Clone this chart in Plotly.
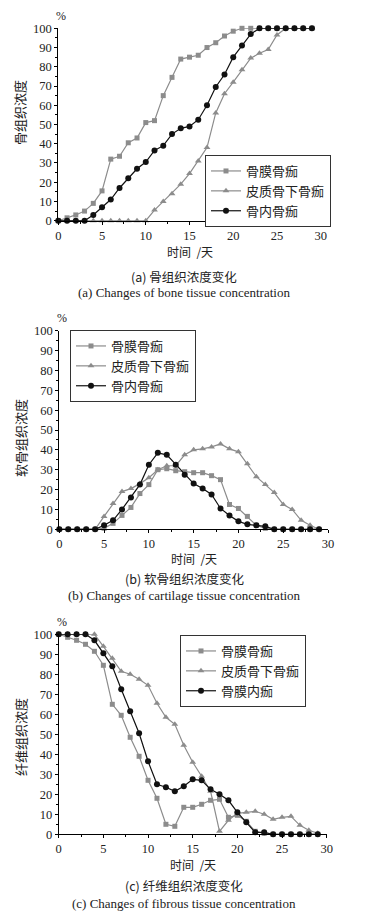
import plotly.graph_objects as go

W, H = 368, 917

days = list(range(30))
series_names_ab = ["骨膜骨痂", "皮质骨下骨痂", "骨内骨痂"]
series_names_c = ["骨膜骨痂", "皮质骨下骨痂", "骨膜内痂"]

# (a) bone tissue concentration
bone_periosteal = [0, 1.5, 3, 5, 9, 15.5, 32, 33.5, 40.5, 43, 51, 52, 65, 74.5, 84, 85, 86, 90, 92.5, 96,
                   98.5, 100, 100, 100, 100, 100, 100, 100, 100, 100]
bone_subcortical = [0, 0, 0, 0, 0, 0, 0, 0, 0, 0, 0, 5.5, 10, 14, 19, 24.5, 31, 38, 56, 66,
                    72, 78.5, 84.5, 87, 89, 96.5, 100, 100, 100, 100]
bone_endosteal = [0, 0, 0, 0, 3, 7, 11, 17, 22, 27, 30.5, 36.5, 39, 45, 48, 49, 52.5, 60, 69.5, 76,
                  85, 91, 97, 100, 100, 100, 100, 100, 100, 100]

# (b) cartilage tissue concentration
cart_periosteal = [0, 0, 0, 0, 0, 0.5, 3, 7, 11, 18, 22.5, 30, 30.5, 29.5, 29, 28.5, 28.5, 27, 25, 12.5,
                   10.5, 6.5, 2, 0.5, 0, 0, 0, 0, 0, 0]
cart_subcortical = [0, 0, 0, 0, 0, 6.5, 13, 19, 20.5, 23, 26, 30, 32, 32, 37.5, 40, 40.5, 41.5, 43, 40.5,
                    39, 33, 26.5, 22.5, 18.5, 12.5, 10, 4.5, 2, 0]
cart_endosteal = [0, 0, 0, 0, 0, 2, 4.5, 10, 16, 22.5, 32.5, 38.5, 37.5, 32.5, 27.5, 23, 20.5, 17.5, 10.5, 7,
                  4, 2.5, 2, 1.5, 0, 0, 0, 0, 0, 0]

# (c) fibrous tissue concentration
fib_periosteal = [100, 98.5, 97, 95, 91.5, 84.5, 65, 59.5, 48.5, 39, 27, 18, 5, 4, 13.5, 13.5, 15, 17, 17.5, 8.5,
                  9.5, 6.5, 1.5, 0.5, 0, 0, 0, 0, 0, 0]
fib_subcortical = [100, 100, 100, 100, 100, 94, 88, 81.5, 80, 77.5, 74.5, 65.5, 58.5, 55, 44.5, 36, 29, 21.5, 1.5, 7,
                   10.5, 11, 11.5, 10, 7.5, 8.5, 9, 4.5, 2, 0.5]
fib_endosteal = [100, 100, 100, 100, 97, 90.5, 84, 72.5, 61.5, 50.5, 36.5, 25, 23.5, 21.5, 24, 27.5, 27, 22.5, 20, 17,
                 11, 6, 1, 1, 0, 0, 0, 0, 0, 0]

x_ticks = [0, 5, 10, 15, 20, 25, 30]
y_ticks = [0, 10, 20, 30, 40, 50, 60, 70, 80, 90, 100]

GRAY = "#8c8c8c"
BLACK = "#111111"
SERIF = "Liberation Serif, Times New Roman, serif"
CJK = "Noto Sans CJK SC, sans-serif"


def px2x(px):
    return px / W


def px2y(py):
    return 1 - py / H


panels = [
    dict(dom=(58.3, 320.7, 28.3, 220.7), data=(bone_periosteal, bone_subcortical, bone_endosteal),
         names=series_names_ab, ytitle="骨组织浓度", ytitle_y=113,
         pct=(61, 16), xtitle_y=251, cap_cn="(a) 骨组织浓度变化", cap_en="(a) Changes of bone tissue concentration",
         cap_y=(276, 292), leg=(205, 155)),
    dict(dom=(59.3, 328, 330.7, 529.3), data=(cart_periosteal, cart_subcortical, cart_endosteal),
         names=series_names_ab, ytitle="软骨组织浓度", ytitle_y=438,
         pct=(62, 318), xtitle_y=558, cap_cn="(b) 软骨组织浓度变化", cap_en="(b) Changes of cartilage tissue concentration",
         cap_y=(578, 595), leg=(70, 330)),
    dict(dom=(58.7, 326.7, 634.3, 834.3), data=(fib_periosteal, fib_subcortical, fib_endosteal),
         names=series_names_c, ytitle="纤维组织浓度", ytitle_y=737,
         pct=(62, 622), xtitle_y=864, cap_cn="(c) 纤维组织浓度变化", cap_en="(c) Changes of fibrous tissue concentration",
         cap_y=(885, 903), leg=(180, 635)),
]

fig = go.Figure()
layout = dict(width=W, height=H, margin=dict(l=0, r=0, t=0, b=0, pad=0, autoexpand=False),
              paper_bgcolor="white", plot_bgcolor="white", showlegend=True)
annotations = []

styles = [
    dict(color=GRAY, symbol="square", size=5),
    dict(color=GRAY, symbol="triangle-up", size=6),
    dict(color=BLACK, symbol="circle", size=6),
]


def ann(x, y, text, font, angle=0):
    return dict(x=px2x(x), y=px2y(y), text=text, showarrow=False, xref="paper", yref="paper",
                xanchor="center", yanchor="middle", textangle=angle, font=font)


for i, p in enumerate(panels):
    sfx = "" if i == 0 else str(i + 1)
    x0, x1, y0, y1 = p["dom"]
    legname = "legend" if i == 0 else f"legend{i + 1}"
    for vals, name, st in zip(p["data"], p["names"], styles):
        fig.add_trace(go.Scatter(
            x=days, y=vals, name=name, mode="lines+markers",
            line=dict(color=st["color"], width=1.2),
            marker=dict(color=st["color"], symbol=st["symbol"], size=st["size"]),
            xaxis="x" + sfx, yaxis="y" + sfx, legend=legname, cliponaxis=False,
        ))
    layout["xaxis" + sfx] = dict(
        domain=[px2x(x0), px2x(x1)], anchor="y" + sfx, range=[0, 30], tickvals=x_ticks,
        showline=True, linecolor="black", linewidth=1, ticks="outside", ticklen=3, tickcolor="black",
        minor=dict(dtick=2.5, ticks="outside", ticklen=2, tickcolor="black"),
        showgrid=False, zeroline=False, tickfont=dict(family=SERIF, size=12.5, color="#222"),
    )
    layout["yaxis" + sfx] = dict(
        domain=[px2y(y1), px2y(y0)], anchor="x" + sfx, range=[0, 100], tickvals=y_ticks,
        showline=True, linecolor="black", linewidth=1, ticks="outside", ticklen=3, tickcolor="black",
        minor=dict(dtick=5, ticks="outside", ticklen=2, tickcolor="black"),
        showgrid=False, zeroline=False, tickfont=dict(family=SERIF, size=12.5, color="#222"),
    )
    lx, ly = p["leg"]
    layout[legname] = dict(
        x=px2x(lx), y=px2y(ly), xanchor="left", yanchor="top",
        bordercolor="#333", borderwidth=1, bgcolor="white",
        font=dict(family=CJK, size=13, color="#222"), itemwidth=30, tracegroupgap=0,
    )
    annotations += [
        ann(p["pct"][0], p["pct"][1], "%", dict(family=SERIF, size=12, color="#222")),
        ann(20, p["ytitle_y"], p["ytitle"], dict(family=CJK, size=13, color="#222"), angle=-90),
        ann((x0 + x1) / 2, p["xtitle_y"], "时间  /天", dict(family=CJK, size=12, color="#222")),
        ann(184, p["cap_y"][0], p["cap_cn"], dict(family=CJK, size=12.5, color="#222")),
        ann(184, p["cap_y"][1], p["cap_en"], dict(family=SERIF, size=13, color="#222")),
    ]

layout["annotations"] = annotations
fig.update_layout(**layout)

fix_page = (
    "var de=document.documentElement, b=document.body;"
    "[de,b].forEach(function(e){e.style.margin='0';e.style.padding='0';"
    "e.style.overflow='hidden';e.style.height='917px';e.style.width='368px';});"
    "var g=document.getElementsByClassName('plotly-graph-div')[0];"
    "g.style.position='absolute';g.style.top='0px';g.style.left='0px';"
)
fig.write_html("out.html", config={"displayModeBar": False, "responsive": False}, post_script=fix_page)
